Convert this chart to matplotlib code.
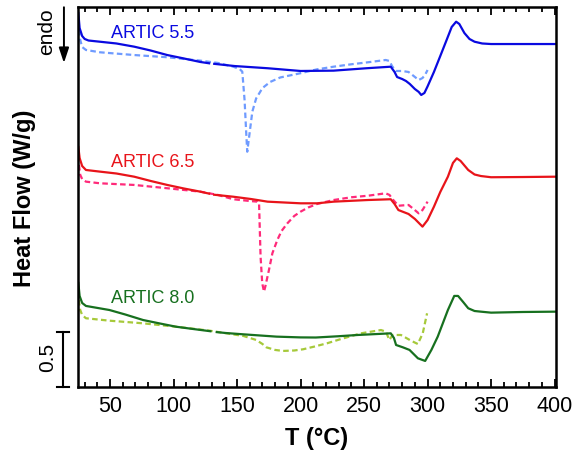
import numpy as np
import matplotlib
matplotlib.use("Agg")
import matplotlib.pyplot as plt
import matplotlib.transforms as mtransforms

plt.rcParams['font.family'] = ['Liberation Sans', 'DejaVu Sans']

nan = np.nan

# ---- data (T in °C, heat flow in W/g, stacked offsets as in the figure) ----
t_blue_solid = [25, 26, 28, 30, 33, 42, 55, 69, 82, 95, 108, 121, 128, nan, 132, 148, 174, 200, 226, 252,
                271, 274, 276, 280, 283, 286, 290, 293, 295, 297.5, 300, 305, 310, 315, 319, 322.5, 325,
                329, 333, 337, 343, 350, 375, 401]
hf_blue_solid = [3.397, 3.261, 3.188, 3.161, 3.147, 3.136, 3.120, 3.091, 3.056, 3.015, 2.984, 2.952, 2.940, nan,
                 2.935, 2.915, 2.895, 2.870, 2.873, 2.895, 2.909, 2.861, 2.815, 2.797, 2.779, 2.752, 2.706,
                 2.680, 2.652, 2.670, 2.730, 2.861, 3.006, 3.152, 3.270, 3.318, 3.297, 3.215, 3.161, 3.136,
                 3.120, 3.115, 3.115, 3.115]

t_blue_dash = [25.5, 26.5, 28, 31, 42, 69, 95, 121, 135, 147, 152, 154.1, 155.9, 157.2, 158, 159.8, 162, 165,
               170, 176, 184, 200, 213, 226, 240, 253, 267, 270, 272, 275, 280, 285, 289, 293, 296, 298, 300]
hf_blue_dash = [3.243, 3.152, 3.088, 3.061, 3.040, 3.015, 2.995, 2.964, 2.943, 2.909, 2.888, 2.864, 2.606,
                2.306, 2.136, 2.300, 2.500, 2.620, 2.715, 2.770, 2.811, 2.850, 2.885, 2.909, 2.931, 2.949,
                2.970, 2.961, 2.915, 2.870, 2.870, 2.861, 2.825, 2.788, 2.806, 2.834, 2.879]

t_red_solid = [25, 26, 28, 31, 42, 55, 69, 82, 95, 108, 121, 128, nan, 132, 147, 161, 174, 200, 213, 226, 253,
               271, 274, 277, 281, 285, 290, 296, 300, 305, 310, 316, 320, 323, 326, 332, 337, 342, 350, 375, 401]
hf_red_solid = [2.179, 2.079, 2.006, 1.970, 1.955, 1.938, 1.909, 1.870, 1.834, 1.802, 1.773, 1.755, nan, 1.745,
                1.727, 1.706, 1.682, 1.667, 1.667, 1.682, 1.697, 1.704, 1.661, 1.606, 1.588, 1.570, 1.525,
                1.455, 1.515, 1.636, 1.770, 1.909, 2.034, 2.076, 2.052, 1.970, 1.929, 1.915, 1.904, 1.906, 1.909]

t_red_dash = [25.5, 26.5, 28, 31, 42, 69, 95, 121, 135, 147, 160, 166, 167.3, 168.5, 169.8, 171.2, 172.2, 175.1,
              177.8, 181.7, 185, 189.6, 195, 200, 206, 213, 226, 240, 253, 267, 270, 273, 277, 285, 289, 293,
              296, 300]
hf_red_dash = [2.015, 1.925, 1.888, 1.864, 1.849, 1.834, 1.804, 1.773, 1.743, 1.704, 1.688, 1.682, 1.667, 1.182,
               0.940, 0.864, 0.909, 1.061, 1.213, 1.334, 1.415, 1.485, 1.552, 1.591, 1.629, 1.661, 1.697, 1.722,
               1.736, 1.758, 1.743, 1.697, 1.645, 1.652, 1.615, 1.576, 1.606, 1.682]

t_green_solid = [25, 26, 28, 31, 39, 49.5, 62, 76, 89, 102, 115, 129, nan, 134, 141, 155, 181, 200, 212, 229,
                 245, 271, 273.5, 275.2, 280.5, 285.8, 292.4, 298.1, 303, 308, 316, 321, 324, 328, 332, 337, 342,
                 350, 375, 401]
hf_green_solid = [0.943, 0.825, 0.761, 0.734, 0.718, 0.697, 0.656, 0.606, 0.575, 0.545, 0.525, 0.504, nan, 0.496,
                  0.488, 0.476, 0.455, 0.448, 0.447, 0.458, 0.470, 0.485, 0.443, 0.379, 0.358, 0.334, 0.258, 0.234,
                  0.334, 0.455, 0.697, 0.825, 0.825, 0.770, 0.713, 0.688, 0.682, 0.673, 0.679, 0.682]

t_green_dash = [25.3, 26.5, 28, 31, 49.5, 76, 102, 128.5, 155, 165, 170, 173, 180, 186, 195, 202, 211, 221, 232,
                247.5, 263.3, 267.2, 269.9, 272.5, 279, 287, 292.3, 296.2, 299.6]
hf_green_dash = [0.788, 0.697, 0.652, 0.622, 0.600, 0.576, 0.545, 0.509, 0.461, 0.425, 0.388, 0.358, 0.334,
                 0.325, 0.329, 0.340, 0.365, 0.395, 0.434, 0.485, 0.515, 0.500, 0.425, 0.470, 0.470, 0.418,
                 0.388, 0.485, 0.667]

labels = ["ARTIC 5.5", "ARTIC 6.5", "ARTIC 8.0"]
label_y = [3.215, 2.034, 0.806]
xticks = [50, 100, 150, 200, 250, 300, 350, 400]
scale_bar = 0.5

# ---- figure ----
fig = plt.figure(figsize=(5.76, 4.53), dpi=100)
ax = fig.add_axes([0.136, 0.1464, 0.829, 0.8375])

lw = 1.6
dash = (0, (2.5, 1.5))
ax.plot(t_blue_dash, hf_blue_dash, color="#6f9bff", lw=lw, ls=dash)
ax.plot(t_blue_solid, hf_blue_solid, color="#0a0ae0", lw=lw)
ax.plot(t_red_dash, hf_red_dash, color="#ff2a7a", lw=lw, ls=dash)
ax.plot(t_red_solid, hf_red_solid, color="#e8141a", lw=lw)
ax.plot(t_green_dash, hf_green_dash, color="#a6c93a", lw=lw, ls=dash)
ax.plot(t_green_solid, hf_green_solid, color="#17701f", lw=lw)

colors_lab = ["#0a0ae0", "#e8141a", "#17701f"]
for lab, yy, cc in zip(labels, label_y, colors_lab):
    ax.text(50.8, yy, lab, color=cc, fontsize=13, ha="left", va="center")

ax.set_xlim(25, 401)
ax.set_ylim(0, 3.449)
ax.set_xticks(xticks)
ax.set_xticklabels([str(v) for v in xticks])
ax.set_xticks(np.arange(30, 401, 10), minor=True)
ax.set_yticks([])
ax.tick_params(axis="x", which="major", direction="in", top=True, bottom=True,
               length=6, width=1.3, labelsize=15.5, pad=7)
ax.tick_params(axis="x", which="minor", direction="in", top=True, bottom=True,
               length=3.5, width=1.3)
for sp in ax.spines.values():
    sp.set_linewidth(1.8)

# scale bar
trans = mtransforms.blended_transform_factory(ax.transAxes, ax.transData)
ax.plot([-0.0314, -0.0314], [0, scale_bar], color="black", lw=1.5, transform=trans, clip_on=False)
ax.plot([-0.0446, -0.0195], [0, 0], color="black", lw=1.5, transform=trans, clip_on=False)
ax.plot([-0.0446, -0.0195], [scale_bar, scale_bar], color="black", lw=1.5, transform=trans, clip_on=False)
ax.text(-0.0634, 0.27, "0.5", rotation=90, fontsize=15, ha="center", va="center", transform=trans)

# endo arrow
fig.text(0.0816, 0.929, "endo", rotation=90, fontsize=15, ha="center", va="center")
ax.annotate("", xy=(0.111, 0.861), xytext=(0.111, 0.984), xycoords="figure fraction",
            textcoords="figure fraction",
            arrowprops=dict(arrowstyle="-|>,head_length=0.9,head_width=0.3", lw=1.4, color="black",
                            shrinkA=0, shrinkB=0))

fig.text(0.0417, 0.563, "Heat Flow (W/g)", rotation=90, fontsize=17, fontweight="bold",
         ha="center", va="center")
fig.text(0.55, 0.0331, "T (°C)", fontsize=17, fontweight="bold", ha="center", va="center")

fig.savefig("out.png", dpi=100)
